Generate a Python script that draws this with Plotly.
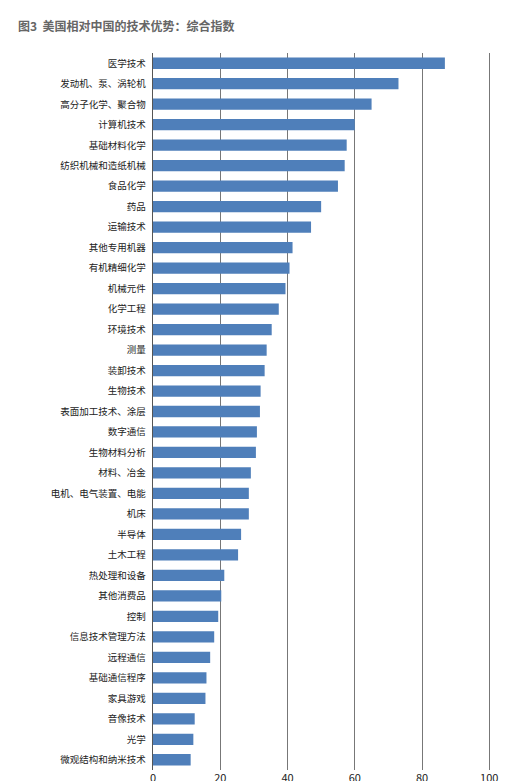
import plotly.graph_objects as go

categories = ["医学技术", "发动机、泵、涡轮机", "高分子化学、聚合物", "计算机技术", "基础材料化学",
              "纺织机械和造纸机械", "食品化学", "药品", "运输技术", "其他专用机器", "有机精细化学",
              "机械元件", "化学工程", "环境技术", "测量", "装卸技术", "生物技术", "表面加工技术、涂层",
              "数字通信", "生物材料分析", "材料、冶金", "电机、电气装置、电能", "机床", "半导体",
              "土木工程", "热处理和设备", "其他消费品", "控制", "信息技术管理方法", "远程通信",
              "基础通信程序", "家具游戏", "音像技术", "光学", "微观结构和纳米技术"]
values = [86.8, 73.0, 65.0, 60.0, 57.6, 57.0, 55.0, 50.0, 47.0, 41.5, 40.6, 39.4, 37.4, 35.3,
          33.8, 33.2, 32.0, 31.8, 30.9, 30.6, 29.1, 28.5, 28.5, 26.2, 25.3, 21.2, 20.3, 19.4,
          18.2, 17.0, 15.9, 15.6, 12.4, 12.0, 11.2]

fig = go.Figure(go.Bar(
    x=values, y=categories, orientation="h",
    marker=dict(color="#4f7fba", line=dict(width=0)), width=0.55,
))

fig.update_layout(
    width=508, height=781,
    margin=dict(l=145, r=20, t=45, b=19),
    plot_bgcolor="white", paper_bgcolor="white",
    font=dict(family="Noto Sans CJK SC", size=10, color="#222"),
    showlegend=False,
    annotations=[dict(text="<b>图3  美国相对中国的技术优势：综合指数</b>", xref="paper", yref="paper",
                      x=-0.4, y=1.039, xanchor="left", yanchor="middle", showarrow=False,
                      font=dict(size=12, color="#666"))],
)
fig.update_xaxes(range=[0, 102], tickvals=[0, 20, 40, 60, 80, 100], showgrid=True,
                 gridcolor="#777", gridwidth=1, zeroline=False, ticks="", tickfont=dict(size=11),
                 automargin=False)
fig.update_yaxes(autorange="reversed", showline=True, linecolor="#555", ticks="",
                 ticksuffix="  ", tickfont=dict(size=9.5), automargin=False)

fig.write_html("out.html")
